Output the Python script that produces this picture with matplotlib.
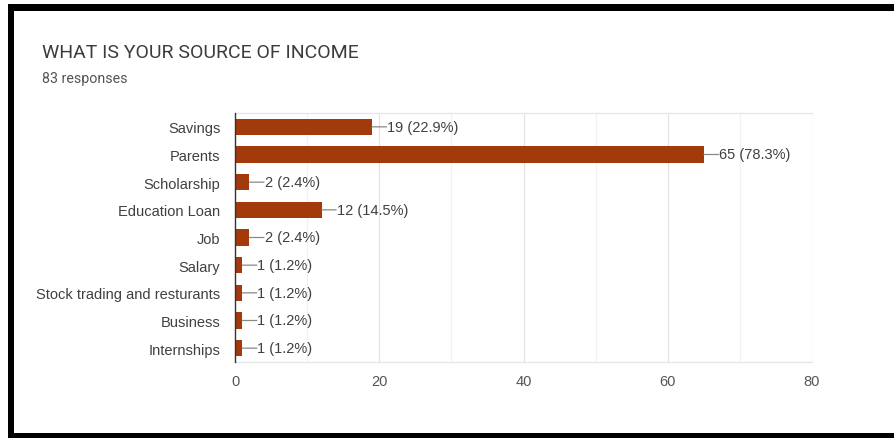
import matplotlib
matplotlib.use("Agg")
import matplotlib.pyplot as plt
from matplotlib.patches import Rectangle

plt.rcParams['font.family'] = ['Liberation Sans', 'DejaVu Sans']

categories = ["Savings", "Parents", "Scholarship", "Education Loan", "Job",
              "Salary", "Stock trading and resturants", "Business", "Internships"]
counts = [19, 65, 2, 12, 2, 1, 1, 1, 1]
total_responses = 83
x_ticks = [0, 20, 40, 60, 80]

title = "WHAT IS YOUR SOURCE OF INCOME"
subtitle = f"{total_responses} responses"

bar_color = "#a33a0c"
label_font = ['Liberation Sans', 'DejaVu Sans']
header_font = ['Roboto', 'DejaVu Sans']

W, H = 894, 439
fig = plt.figure(figsize=(W / 100, H / 100), dpi=100)
fig.patch.set_facecolor("white")

ax = fig.add_axes([235 / W, 1 - 363 / H, (812 - 235) / W, (363 - 114) / H])

ypos = list(range(len(categories)))
ax.barh(ypos, counts, height=0.58, color=bar_color, zorder=3)

ax.set_xlim(0, 80)
ax.set_ylim(len(categories) - 0.5, -0.5)
ax.set_yticks(ypos)
ax.set_yticklabels(categories, fontsize=10.5, color="#404040", family=label_font)
ax.set_xticks(x_ticks)
ax.set_xticklabels([str(t) for t in x_ticks], fontsize=10.5, color="#555555",
                   family=label_font)
ax.tick_params(axis="y", length=0, pad=10.5)
ax.tick_params(axis="x", length=0, pad=8.5)

# light grid: major every 20, fainter in between
for v in range(10, 81, 10):
    ax.axvline(v, color="#e3e3e3" if v % 20 == 0 else "#f1f1f1", lw=0.9, zorder=1)

for side in ("top", "bottom"):
    ax.spines[side].set_color("#e6e6e6")
    ax.spines[side].set_linewidth(0.9)
ax.spines["right"].set_visible(False)
ax.spines["left"].set_color("#333333")
ax.spines["left"].set_linewidth(1.0)
ax.spines["left"].set_zorder(4)

# value labels with short leader lines
for y, c in zip(ypos, counts):
    pct = c / total_responses * 100
    ax.annotate("", xy=(c, y), xytext=(10.5, 0), textcoords="offset points",
                xycoords="data",
                arrowprops=dict(arrowstyle="-", color="#888888", lw=0.9,
                                shrinkA=0, shrinkB=0))
    ax.annotate(f"{c} ({pct:.1f}%)", xy=(c, y), xytext=(11, 0),
                textcoords="offset points", va="center", ha="left",
                fontsize=10.5, color="#404040", family=label_font)

fig.text(42 / W, 1 - 53 / H, title, fontsize=14, color="#3c3c3c",
         va="center", ha="left", family=header_font)
fig.text(42 / W, 1 - 79 / H, subtitle, fontsize=10.3, color="#555555",
         va="center", ha="left", family=header_font)

# black frame around the card
def px_rect(x0, y0, x1, y1):
    fig.patches.append(Rectangle((x0 / W, 1 - y1 / H), (x1 - x0) / W, (y1 - y0) / H,
                                 transform=fig.transFigure, facecolor="black",
                                 edgecolor="none", zorder=10))

px_rect(8, 5, W, 12)
px_rect(8, 5, 14, H)
px_rect(8, 434, W, H)

fig.savefig("out.png", dpi=100)
